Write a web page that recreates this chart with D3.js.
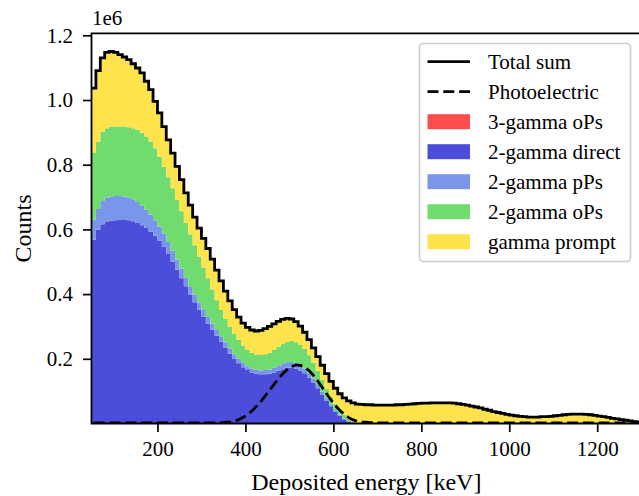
<!DOCTYPE html>
<html>
<head>
<meta charset="utf-8">
<script src="https://cdn.jsdelivr.net/npm/d3@7"></script>
<style>
  body { margin: 0; background: #fff; }
  text { font-family: "Liberation Serif", "Times New Roman", serif; fill: #000; }
</style>
</head>
<body>
<svg id="chart" width="639" height="496"></svg>
<script>
// histogram bins: 10 keV wide, first bin starts at 50 keV, last ends at 1300 keV
let binEdges = d3.range(50, 1301, 10);

// counts per bin, in units of 1e6 (arrays stop where the component is empty)
let threeGammaOPs = [
  0.001, 0.001, 0.001, 0.001, 0.001, 0.001, 0.001, 0.001, 0.001, 0.001,
  0.001, 0.001, 0.001, 0.001, 0.001, 0.001, 0.001, 0.001, 0.001, 0.001,
  0.001, 0.001, 0.001, 0.001, 0.001, 0.001, 0.001, 0.001, 0.001, 0.001,
  0.001, 0.001, 0.001, 0.001, 0.001, 0.001, 0.001, 0.001, 0.001, 0.001,
  0.001, 0.001, 0.001, 0.001, 0.001, 0.001
];
let twoGammaDirect = [
  0.567, 0.598, 0.615, 0.622, 0.626, 0.627, 0.628, 0.628, 0.627, 0.624,
  0.619, 0.612, 0.603, 0.592, 0.579, 0.564, 0.546, 0.523, 0.499, 0.474,
  0.448, 0.423, 0.398, 0.374, 0.351, 0.329, 0.308, 0.289, 0.270, 0.252,
  0.234, 0.215, 0.199, 0.185, 0.173, 0.164, 0.157, 0.153, 0.151, 0.151,
  0.153, 0.157, 0.162, 0.167, 0.171, 0.172, 0.170, 0.164, 0.155, 0.142,
  0.127, 0.109, 0.090, 0.071, 0.053, 0.037, 0.024, 0.013, 0.006, 0.002
];
let twoGammaPPs = [
  0.062, 0.064, 0.072, 0.075, 0.075, 0.075, 0.074, 0.073, 0.071, 0.068,
  0.065, 0.061, 0.057, 0.052, 0.048, 0.044, 0.040, 0.037, 0.034, 0.031,
  0.029, 0.027, 0.025, 0.024, 0.022, 0.021, 0.020, 0.019, 0.018, 0.017,
  0.016, 0.015, 0.014, 0.013, 0.013, 0.012, 0.012, 0.012, 0.012, 0.013,
  0.013, 0.014, 0.015, 0.016, 0.017, 0.017, 0.016, 0.015, 0.014, 0.013,
  0.011, 0.010, 0.008, 0.007, 0.005, 0.004, 0.003, 0.002, 0.001
];
let twoGammaOPs = [
  0.206, 0.208, 0.213, 0.215, 0.215, 0.215, 0.215, 0.216, 0.217, 0.220,
  0.223, 0.225, 0.226, 0.227, 0.223, 0.215, 0.207, 0.200, 0.193, 0.185,
  0.178, 0.169, 0.161, 0.152, 0.142, 0.131, 0.120, 0.105, 0.092, 0.081,
  0.072, 0.067, 0.063, 0.060, 0.054, 0.050, 0.048, 0.047, 0.048, 0.049,
  0.052, 0.055, 0.059, 0.062, 0.064, 0.065, 0.065, 0.064, 0.061, 0.056,
  0.050, 0.043, 0.037, 0.030, 0.025, 0.020, 0.015, 0.012, 0.008, 0.004,
  0.002
];
let gammaPrompt = [
  0.201, 0.220, 0.229, 0.234, 0.233, 0.229, 0.222, 0.215, 0.209, 0.199,
  0.191, 0.185, 0.171, 0.160, 0.145, 0.136, 0.124, 0.116, 0.109, 0.104,
  0.098, 0.093, 0.090, 0.087, 0.088, 0.090, 0.092, 0.094, 0.093, 0.090,
  0.086, 0.081, 0.075, 0.070, 0.069, 0.070, 0.071, 0.073, 0.076, 0.079,
  0.081, 0.081, 0.079, 0.076, 0.072, 0.068, 0.064, 0.058, 0.052, 0.048,
  0.046, 0.045, 0.045, 0.046, 0.047, 0.048, 0.050, 0.052, 0.055, 0.058,
  0.058, 0.059, 0.058, 0.058, 0.057, 0.057, 0.057, 0.057, 0.057, 0.058,
  0.058, 0.059, 0.060, 0.061, 0.062, 0.063, 0.063, 0.064, 0.064, 0.064,
  0.064, 0.064, 0.063, 0.061, 0.059, 0.057, 0.054, 0.051, 0.048, 0.044,
  0.041, 0.037, 0.034, 0.031, 0.028, 0.026, 0.024, 0.022, 0.021, 0.020,
  0.020, 0.020, 0.021, 0.021, 0.022, 0.024, 0.025, 0.027, 0.028, 0.029,
  0.029, 0.029, 0.028, 0.027, 0.025, 0.023, 0.021, 0.019, 0.016, 0.014,
  0.012, 0.010, 0.008, 0.006, 0.004
];
// photoelectric part, drawn on its own (not stacked)
let photoelectric = [
  0.002, 0.002, 0.002, 0.002, 0.002, 0.002, 0.002, 0.002, 0.002, 0.002,
  0.002, 0.002, 0.002, 0.002, 0.002, 0.002, 0.002, 0.002, 0.002, 0.002,
  0.002, 0.002, 0.002, 0.002, 0.002, 0.002, 0.002, 0.002, 0.002, 0.003,
  0.004, 0.005, 0.008, 0.012, 0.019, 0.028, 0.039, 0.053, 0.068, 0.085,
  0.103, 0.121, 0.138, 0.154, 0.167, 0.176, 0.181, 0.180, 0.174, 0.163,
  0.148, 0.130, 0.111, 0.091, 0.072, 0.055, 0.040, 0.028, 0.018, 0.011,
  0.007, 0.005, 0.004, 0.003, 0.002, 0.002, 0.002, 0.002, 0.002, 0.002,
  0.002, 0.002, 0.002, 0.002, 0.002, 0.002, 0.002, 0.002, 0.002, 0.002,
  0.002, 0.002, 0.002, 0.002, 0.002, 0.002, 0.002, 0.002, 0.002, 0.002,
  0.002, 0.002, 0.002, 0.002, 0.002, 0.002, 0.002, 0.002, 0.002, 0.002,
  0.002, 0.002, 0.002, 0.002, 0.002, 0.002, 0.002, 0.002, 0.002, 0.002,
  0.002, 0.002, 0.002, 0.002, 0.002, 0.002, 0.002, 0.002, 0.002, 0.002,
  0.002, 0.002, 0.002, 0.002, 0.002
];

let seriesNames = ['3-gamma oPs', '2-gamma direct', '2-gamma pPs', '2-gamma oPs', 'gamma prompt'];
let seriesValues = [threeGammaOPs, twoGammaDirect, twoGammaPPs, twoGammaOPs, gammaPrompt];
let seriesColors = ['#ff4d4d', '#4d4ddc', '#7a96eb', '#70dc70', '#ffe34d'];
let xTicks = [200, 400, 600, 800, 1000, 1200];
let yTicks = [0.2, 0.4, 0.6, 0.8, 1.0, 1.2];

let svg = d3.select('#chart');
let plot = { left: 91.5, right: 641.2, top: 33.3, bottom: 423.5 };

let x = d3.scaleLinear().domain([50, 1300]).range([plot.left, plot.right]);
let y = d3.scaleLinear().domain([0, 1.2062]).range([plot.bottom, plot.top]);

svg.append('rect').attr('width', 639).attr('height', 496).attr('fill', '#fff');

svg.append('defs').append('clipPath').attr('id', 'clip')
  .append('rect')
  .attr('x', plot.left).attr('y', plot.top)
  .attr('width', plot.right - plot.left).attr('height', plot.bottom - plot.top);

// one row per bin, plus a closing row at the last edge for the step curves
let rows = binEdges.map(function (edge, i) {
  let row = { edge: edge };
  seriesNames.forEach(function (name, k) {
    let v = seriesValues[k][Math.min(i, binEdges.length - 2)];
    row[name] = v || 0;
  });
  return row;
});

let stacked = d3.stack().keys(seriesNames)(rows);

let g = svg.append('g').attr('clip-path', 'url(#clip)');

let area = d3.area()
  .curve(d3.curveStepAfter)
  .x(function (d) { return x(d.data.edge); })
  .y0(function (d) { return y(d[0]); })
  .y1(function (d) { return y(d[1]); });

g.selectAll('path.layer')
  .data(stacked)
  .join('path')
  .attr('class', 'layer')
  .attr('fill', function (d, i) { return seriesColors[i]; })
  .attr('d', area);

// total sum outline = top of the stack
let topLayer = stacked[stacked.length - 1];
let totalPts = topLayer.map(function (d) { return [x(d.data.edge), y(d[1])]; });

g.append('path')
  .attr('fill', 'none')
  .attr('stroke', '#000')
  .attr('stroke-width', 2.8)
  .attr('d', d3.line().curve(d3.curveStepAfter)(totalPts));

// photoelectric dashed line through bin centres
let photoPts = photoelectric.map(function (v, i) { return [binEdges[i] + 5, v]; });
g.append('path')
  .attr('fill', 'none')
  .attr('stroke', '#000')
  .attr('stroke-width', 2.8)
  .attr('stroke-dasharray', '11,4.8')
  .attr('d', d3.line().x(function (d) { return x(d[0]); }).y(function (d) { return y(d[1]); })(photoPts));

// axes
let xAxis = svg.append('g')
  .attr('transform', 'translate(0,' + plot.bottom + ')')
  .call(d3.axisBottom(x).tickValues(xTicks).tickFormat(d3.format('d')).tickSize(8.5).tickPadding(9).tickSizeOuter(0));
let yAxis = svg.append('g')
  .attr('transform', 'translate(' + plot.left + ',0)')
  .call(d3.axisLeft(y).tickValues(yTicks).tickFormat(d3.format('.1f')).tickSize(8.5).tickPadding(10).tickSizeOuter(0));

[xAxis, yAxis].forEach(function (ax) {
  ax.select('.domain').remove();
  ax.selectAll('.tick line').attr('stroke', '#000').attr('stroke-width', 1.7);
  ax.selectAll('.tick text').attr('font-size', 21);
});

// spines: left, bottom, top (right one falls outside the picture)
svg.append('path')
  .attr('fill', 'none')
  .attr('stroke', '#000')
  .attr('stroke-width', 1.8)
  .attr('stroke-linecap', 'square')
  .attr('d', 'M' + plot.right + ',' + plot.top + 'H' + plot.left + 'V' + plot.bottom + 'H' + plot.right);

svg.append('text').attr('x', 92).attr('y', 25).attr('font-size', 21).text('1e6');

svg.append('text')
  .attr('x', (plot.left + plot.right) / 2).attr('y', 490)
  .attr('text-anchor', 'middle').attr('font-size', 24)
  .text('Deposited energy [keV]');

svg.append('text')
  .attr('transform', 'translate(31,' + (plot.top + plot.bottom) / 2 + ') rotate(-90)')
  .attr('text-anchor', 'middle').attr('font-size', 24)
  .text('Counts');

// legend
let legend = svg.append('g');
legend.append('rect')
  .attr('x', 419.5).attr('y', 43.5).attr('width', 211).attr('height', 218)
  .attr('rx', 4).attr('fill', '#fff').attr('fill-opacity', 0.8)
  .attr('stroke', '#cccccc').attr('stroke-width', 1.6);

let legendItems = [
  { label: 'Total sum', type: 'line' },
  { label: 'Photoelectric', type: 'dash' }
].concat(seriesNames.map(function (n, i) { return { label: n, type: 'patch', color: seriesColors[i] }; }));

legendItems.forEach(function (item, i) {
  let cy = 61.7 + i * 30;
  if (item.type === 'patch') {
    legend.append('rect').attr('x', 427.5).attr('y', cy - 7.5).attr('width', 42.5).attr('height', 15)
      .attr('fill', item.color);
  } else {
    legend.append('line').attr('x1', 427.5).attr('x2', 470).attr('y1', cy).attr('y2', cy)
      .attr('stroke', '#000').attr('stroke-width', 2.8)
      .attr('stroke-dasharray', item.type === 'dash' ? '11,4.8' : null);
  }
  legend.append('text').attr('x', 488).attr('y', cy + 7).attr('font-size', 21).text(item.label);
});
</script>
</body>
</html>
